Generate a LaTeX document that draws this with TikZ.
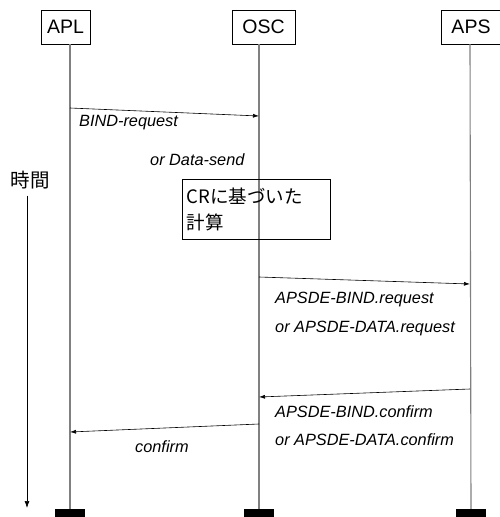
\documentclass[tikz,border=0pt]{standalone}
\usepackage{fontspec}
\setmainfont{Liberation Sans}
\newfontfamily\jpfont{Noto Sans CJK JP}
\usetikzlibrary{arrows.meta, positioning}
\tikzstyle{entity}=[draw, line width=0.6pt, minimum height=34pt, inner sep=2pt, font=\fontsize{19.5}{21}\selectfont]
\tikzstyle{lifeline}=[draw=gray, line width=1.1pt]
\tikzstyle{endbar}=[fill=black, inner sep=0pt, minimum width=30pt, minimum height=8pt]
\tikzstyle{process}=[draw, line width=0.6pt, align=left, text width=140pt, minimum height=60pt, inner sep=4pt, font=\jpfont\fontsize{18.5}{26}\selectfont]
\tikzstyle{msg}=[-{Latex[length=6pt,width=4pt]}, line width=0.6pt]
\tikzstyle{msglabel}=[anchor=west, inner sep=0pt, font=\itshape\fontsize{16.3}{18}\selectfont]

\begin{document}
\begin{tikzpicture}[x=1pt, y=-1pt]
      \useasboundingbox (0,0) rectangle (499,517);

      % objects
      \node[entity, minimum width=49pt] (apl) at (65.5,27) {APL};
      \node[entity, minimum width=63pt] (osc) at (263.5,27) {OSC};
      \node[entity, minimum width=60pt] (aps) at (471,27) {APS};

      \coordinate (aplTop) at (70,44);
      \coordinate (oscTop) at (259,44);
      \coordinate (apsTop) at (470,44);
      \node[endbar] (aplEnd) at (70,513) {};
      \node[endbar] (oscEnd) at (259,513) {};
      \node[endbar] (apsEnd) at (471,513) {};

      \draw[lifeline] (aplTop) -- (aplEnd.north);
      \draw[lifeline] (oscTop) -- (oscEnd.north);
      \draw[lifeline] (apsTop) -- (apsEnd.north);

      % time axis
      \node[font=\jpfont\fontsize{19.5}{21}\selectfont] (time) at (30,180) {時間};
      \coordinate (timeEnd) at (27,508);
      \draw[-{Latex[length=7pt,width=5pt]}, line width=0.7pt] (time.south -| timeEnd) ++(0,3) -- (timeEnd);

      % computation
      \node[process] (calc) at (256.5,209) {\raisebox{-3pt}{CRに基づいた}\\\raisebox{-3pt}{計算}};

      % messages
      \coordinate (bindFrom) at (70,108);
      \coordinate (bindTo) at (259,116);
      \coordinate (apsdeFrom) at (259,277);
      \coordinate (apsdeTo) at (470,284);
      \coordinate (cnfFrom) at (470,389);
      \coordinate (cnfTo) at (259,397);
      \coordinate (confFrom) at (259,424);
      \coordinate (confTo) at (70,432);

      \draw[msg] (bindFrom) -- (bindTo);
      \draw[msg] (apsdeFrom) -- (apsdeTo);
      \draw[msg] (cnfFrom) -- (cnfTo);
      \draw[msg] (confFrom) -- (confTo);

      \node[msglabel] (bindReq) at (79,123) {BIND-request};
      \node[msglabel] (dataSend) at (150,160) {or Data-send};
      \node[msglabel] (bindRequest) at (275,299) {APSDE-BIND.request};
      \node[msglabel] (dataRequest) at (275,328) {or APSDE-DATA.request};
      \node[msglabel] (bindConfirm) at (275,412) {APSDE-BIND.confirm};
      \node[msglabel] (dataConfirm) at (275,440) {or APSDE-DATA.confirm};
      \node[msglabel] (confirm) at (135,447) {confirm};
\end{tikzpicture}
\end{document}
